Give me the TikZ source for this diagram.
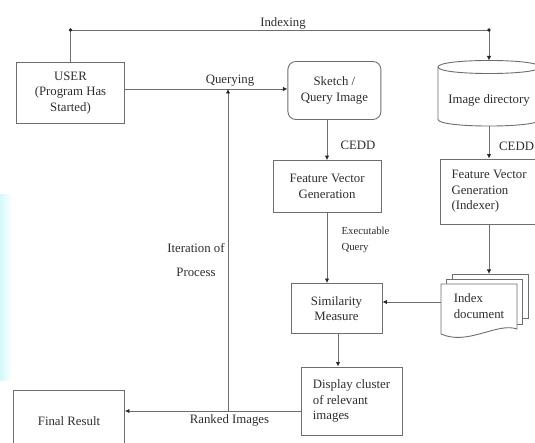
\documentclass[tikz,border=0pt]{standalone}
\usepackage{fontspec}
\setmainfont{Liberation Serif}
\usetikzlibrary{arrows.meta,calc}
\definecolor{glow}{RGB}{212,249,252}
\definecolor{ln}{RGB}{110,110,110}
\definecolor{tx}{RGB}{45,45,45}
\begin{document}
\begin{tikzpicture}[x=1pt,y=-1pt,
  every node/.style={font=\fontsize{12.8}{15.6}\selectfont, text=tx},
  box/.style={draw=ln, line width=0.9pt, align=center, inner sep=2pt},
  conn/.style={draw=ln, line width=0.9pt, -{Latex[length=4.5pt,width=4.5pt,color=black!85]}},
  plain/.style={draw=ln, line width=0.9pt},
  small/.style={font=\fontsize{10.8}{15.5}\selectfont}]
\useasboundingbox (0,0) rectangle (535,443);
\shade[left color=glow, right color=white] (0,195) rectangle (12,380);

% boxes
\node[box, minimum width=108, minimum height=61] (user) at (70.5,93) {USER\\(Program Has\\Started)};
\node[box, rounded corners=8pt, minimum width=93, minimum height=58] (sketch) at (334.4,90.5) {Sketch /\\Query Image};
\node[box, minimum width=108, minimum height=52] (fvg) at (327,186.6) {Feature Vector\\Generation};
\node[box, minimum width=91, minimum height=50] (sim) at (336.5,308.5) {Similarity\\Measure};
\node[box, minimum width=101, minimum height=68, align=left] (disp) at (351.5,401) {Display cluster\\of relevant\\images};
\node[box, minimum width=111, minimum height=62] (final) at (69,421) {Final Result};
\node[box, minimum width=98, minimum height=65, align=left] (fvgi) at (489,191.5) {Feature Vector\\Generation\\(Indexer)};

% cylinder (image directory)
\draw[plain, fill=white] (438,67) -- (438,119.5) .. controls (438,128.2) and (540,128.2) .. (540,119.5) -- (540,67);
\draw[plain] (438,67) .. controls (438,58.3) and (540,58.3) .. (540,67) .. controls (540,75.7) and (438,75.7) .. (438,67);
\node (imgdir) at (489,100) {Image directory};
\coordinate (imgtop) at (489,60.5);
\coordinate (imgbot) at (489,126);

% multi-document (index document)
\draw[plain, fill=white] (452,274) rectangle (528,318);
\draw[plain, fill=white] (446.5,279) rectangle (522.5,324);
\draw[plain, fill=white] (441,284) -- (517,284) -- (517,329) .. controls (497,322) and (468,346) .. (441,334) -- cycle;
\node[align=left, minimum width=76, minimum height=50, inner sep=0pt] (idx) at (479,306) {Index\\document};
\coordinate (idxtop) at (489,274);
\coordinate (ia) at (441,302);

% connectors
\coordinate (ityr) at (489,30);
\coordinate (q) at (228,89);
\coordinate (r) at (228,411);
\coordinate (sdx) at (338,0);
\draw[conn] (user.north) -- (user.north |- ityr) -- (ityr) -- (imgtop);
\fill[black!85] (user.north |- ityr) circle (1.8);
\fill[black!85] (ityr) circle (1.8);
\draw[conn] (user.east |- q) -- (sketch.west |- q);
\draw[conn] (r) -- (q);
\draw[conn] (disp.west |- r) -- (final.east |- r);
\draw[conn] (fvg.north |- sketch.south) -- (fvg.north);
\draw[conn] (fvg.south) -- (fvg.south |- sim.north);
\draw[conn] (sim.south -| sdx) -- (disp.north -| sdx);
\draw[conn] (imgbot) -- (fvgi.north);
\draw[conn] (fvgi.south) -- (idxtop);
\draw[conn] (ia) -- (ia -| sim.east);

% labels
\node at (283,23) {Indexing};
\node at (230,81) {Querying};
\node at (358,145) {CEDD};
\node[anchor=west, inner sep=1pt] at (498,146) {CEDD};
\node[small, align=left, anchor=west] at (338,240) {Executable\\Query};
\node[align=center] at (196,260) {Iteration of\\[8pt]Process};
\node at (229.5,420) {Ranked Images};
\end{tikzpicture}
\end{document}
